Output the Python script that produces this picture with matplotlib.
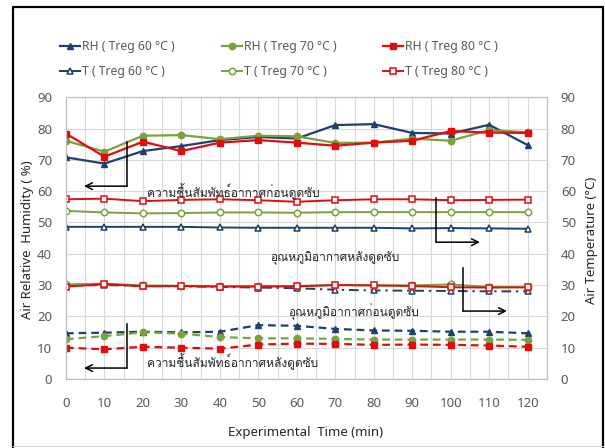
import matplotlib
matplotlib.use("Agg")
import numpy as np
import matplotlib.pyplot as plt
from matplotlib import font_manager
from matplotlib.ft2font import FT2Font
from matplotlib.lines import Line2D

# time axis (min)
time_min = [0, 10, 20, 30, 40, 50, 60, 70, 80, 90, 100, 110, 120]

# relative humidity before adsorption (%)
rh_before_60 = [70.8, 68.8, 72.8, 74.4, 76.3, 77.3, 76.8, 81.1, 81.4, 78.6, 78.4, 81.2, 74.7]
rh_before_70 = [76.1, 72.6, 77.7, 77.9, 76.6, 77.7, 77.5, 75.4, 75.5, 76.8, 76.1, 79.5, 78.8]
rh_before_80 = [78.4, 71.0, 75.8, 72.8, 75.5, 76.3, 75.5, 74.5, 75.5, 76.1, 79.2, 78.7, 78.6]

# relative humidity after adsorption (%)
rh_after_60 = [14.6, 14.8, 15.1, 14.9, 15.1, 17.2, 17.0, 16.0, 15.5, 15.4, 15.1, 15.1, 14.6]
rh_after_70 = [12.7, 13.7, 14.9, 14.5, 13.4, 13.0, 13.0, 12.8, 12.6, 12.6, 12.6, 12.6, 12.5]
rh_after_80 = [10.0, 9.5, 10.3, 10.0, 9.7, 11.0, 11.3, 11.2, 10.9, 11.0, 10.9, 10.7, 10.3]

# air temperature after adsorption (C)
t_after_60 = [48.6, 48.6, 48.6, 48.6, 48.4, 48.3, 48.3, 48.3, 48.3, 48.1, 48.2, 48.1, 48.0]
t_after_70 = [53.7, 53.2, 52.9, 53.0, 53.2, 53.2, 53.1, 53.3, 53.3, 53.3, 53.3, 53.3, 53.3]
t_after_80 = [57.4, 57.6, 56.8, 57.2, 57.4, 57.1, 56.6, 57.1, 57.4, 57.4, 57.1, 57.2, 57.3]

# air temperature before adsorption (C)
t_before_60 = [29.8, 30.0, 29.7, 29.6, 29.4, 29.2, 29.0, 28.5, 28.3, 28.2, 28.1, 28.0, 28.0]
t_before_70 = [30.2, 30.5, 29.9, 29.8, 29.7, 29.7, 29.7, 30.0, 29.9, 29.9, 30.2, 29.4, 29.3]
t_before_80 = [29.5, 30.3, 29.6, 29.7, 29.5, 29.5, 29.6, 30.0, 29.9, 29.7, 29.3, 29.2, 29.3]

legend_labels = ["RH ( Treg 60 °C )", "RH ( Treg 70 °C )", "RH ( Treg 80 °C )",
                 "T ( Treg 60 °C )", "T ( Treg 70 °C )", "T ( Treg 80 °C )"]

notes = ["ความชื้นสัมพัทธ์อากาศก่อนดูดซับ", "อุณหภูมิอากาศหลังดูดซับ",
         "อุณหภูมิอากาศก่อนดูดซับ", "ความชื้นสัมพัทธ์อากาศหลังดูดซับ"]

BLUE = "#1f3f6e"
GREEN = "#7aa23c"
RED = "#e00d10"
TICK = "#595959"


def thai_family():
    # pick any installed font that has Thai glyphs
    for f in font_manager.fontManager.ttflist:
        try:
            if 0x0E01 in FT2Font(f.fname).get_charmap():
                return f.name
        except Exception:
            pass
    return "DejaVu Sans"


def main():
    thai = thai_family()
    plt.rcParams["font.family"] = ["Noto Sans", "DejaVu Sans"]

    fig = plt.figure(figsize=(6.05, 4.48), dpi=100)
    ax = fig.add_axes([0.109, 0.154, 0.795, 0.629])
    ax2 = ax.twinx()

    for a in (ax, ax2):
        a.set_xlim(0, 125)
        a.set_ylim(0, 90)
        a.set_yticks(np.arange(0, 91, 10))
        for s in a.spines.values():
            s.set_color("#bfbfbf")
            s.set_linewidth(0.8)
        a.tick_params(length=0, labelsize=9.5, labelcolor=TICK)
    ax.tick_params(axis="y", pad=10)
    ax2.tick_params(axis="y", pad=10)
    ax.set_xticks(time_min)
    ax.set_xticks(np.arange(0, 126, 5), minor=True)
    ax.tick_params(axis="x", which="both", length=0, pad=13)
    ax.grid(True, which="both", axis="x", color="#d9d9d9", lw=0.8)
    ax.grid(True, which="major", axis="y", color="#d9d9d9", lw=0.8)
    ax.set_axisbelow(True)

    ms = 4.6
    lw = 1.6
    # relative humidity, before (solid) and after (dashed)
    h_rh60, = ax.plot(time_min, rh_before_60, "-", color=BLUE, lw=lw, marker="^", ms=ms)
    h_rh70, = ax.plot(time_min, rh_before_70, "-", color=GREEN, lw=lw, marker="o", ms=ms)
    h_rh80, = ax.plot(time_min, rh_before_80, "-", color=RED, lw=lw, marker="s", ms=ms)
    dash = (0, (3.5, 2.2))
    ax.plot(time_min, rh_after_60, ls=dash, color=BLUE, lw=lw, marker="^", ms=ms)
    ax.plot(time_min, rh_after_70, ls=dash, color=GREEN, lw=lw, marker="o", ms=ms)
    ax.plot(time_min, rh_after_80, ls=dash, color=RED, lw=lw, marker="s", ms=ms)

    # temperature, hollow markers
    hollow = dict(ms=ms, mfc="white", mew=1.1)
    tw = 1.4
    h_t60, = ax2.plot(time_min, t_after_60, "-", color=BLUE, lw=tw, marker="^", **hollow)
    h_t70, = ax2.plot(time_min, t_after_70, "-", color=GREEN, lw=tw, marker="o", **hollow)
    h_t80, = ax2.plot(time_min, t_after_80, "-", color=RED, lw=tw, marker="s", **hollow)
    ax2.plot(time_min, t_before_60, ls=(0, (5, 2.5, 1.2, 2.5)), color=BLUE, lw=tw,
             marker="^", **hollow)
    ax2.plot(time_min, t_before_70, "-", color=GREEN, lw=tw, marker="o", **hollow)
    ax2.plot(time_min, t_before_80, "-", color=RED, lw=tw, marker="s", **hollow)

    # legend: three columns, two rows each
    handles = [h_rh60, h_rh70, h_rh80, h_t60, h_t70, h_t80]
    col_x = [60 / 605, 222 / 605, 383 / 605]
    for i, x0 in enumerate(col_x):
        fig.legend([handles[i], handles[i + 3]], [legend_labels[i], legend_labels[i + 3]],
                   loc="upper left", bbox_to_anchor=(x0, 1 - 40 / 448),
                   frameon=False, borderpad=0, borderaxespad=0, fontsize=8.8,
                   handlelength=1.6, handletextpad=0.2, labelspacing=1.0,
                   labelcolor=TICK)

    fig.text(27 / 605, 1 - 240 / 448, "Air Relative  Humidity ( %)", rotation=90,
             ha="center", va="center", fontsize=9.5, color="#262626")
    fig.text(591 / 605, 1 - 240 / 448, "Air Temperature (°C)", rotation=90,
             ha="center", va="center", fontsize=9.5, color="#262626")
    fig.text(306 / 605, 1 - 432 / 448, "Experimental  Time (min)",
             ha="center", va="center", fontsize=9.5, color="#262626")

    # annotations with bent arrows
    text_pos = [(21, 60.0), (53, 38.6), (57.7, 21.5), (21, 5.4)]
    arrow_paths = [[(15.85, 75.6), (15.85, 61.6), (4.7, 61.6)],
                   [(96.2, 57.8), (96.2, 43.7), (107.6, 43.7)],
                   [(103.2, 35.4), (103.2, 21.7), (114.6, 21.7)],
                   [(15.85, 17.6), (15.85, 3.5), (4.7, 3.5)]]
    for txt, (tx, ty) in zip(notes, text_pos):
        ax2.text(tx, ty, txt, ha="left", va="center", fontsize=8.6,
                 family=[thai, "DejaVu Sans"], color="#262626")
    for p in arrow_paths:
        ax2.plot([p[0][0], p[1][0]], [p[0][1], p[1][1]], color="black", lw=1.1)
        ax2.annotate("", xy=p[2], xytext=p[1],
                     arrowprops=dict(arrowstyle="->", color="black", lw=1.1,
                                     shrinkA=0, shrinkB=0, mutation_scale=12))

    # outer frame
    fig.add_artist(Line2D([13 / 605, 13 / 605, 603 / 605, 603 / 605],
                          [0, 1 - 7 / 448, 1 - 7 / 448, 0],
                          transform=fig.transFigure, color="black", lw=1.6))
    fig.add_artist(Line2D([13 / 605, 603 / 605], [2 / 448, 2 / 448],
                          transform=fig.transFigure, color="#d9d9d9", lw=0.8))

    fig.savefig("out.png", dpi=100)


if __name__ == "__main__":
    main()
